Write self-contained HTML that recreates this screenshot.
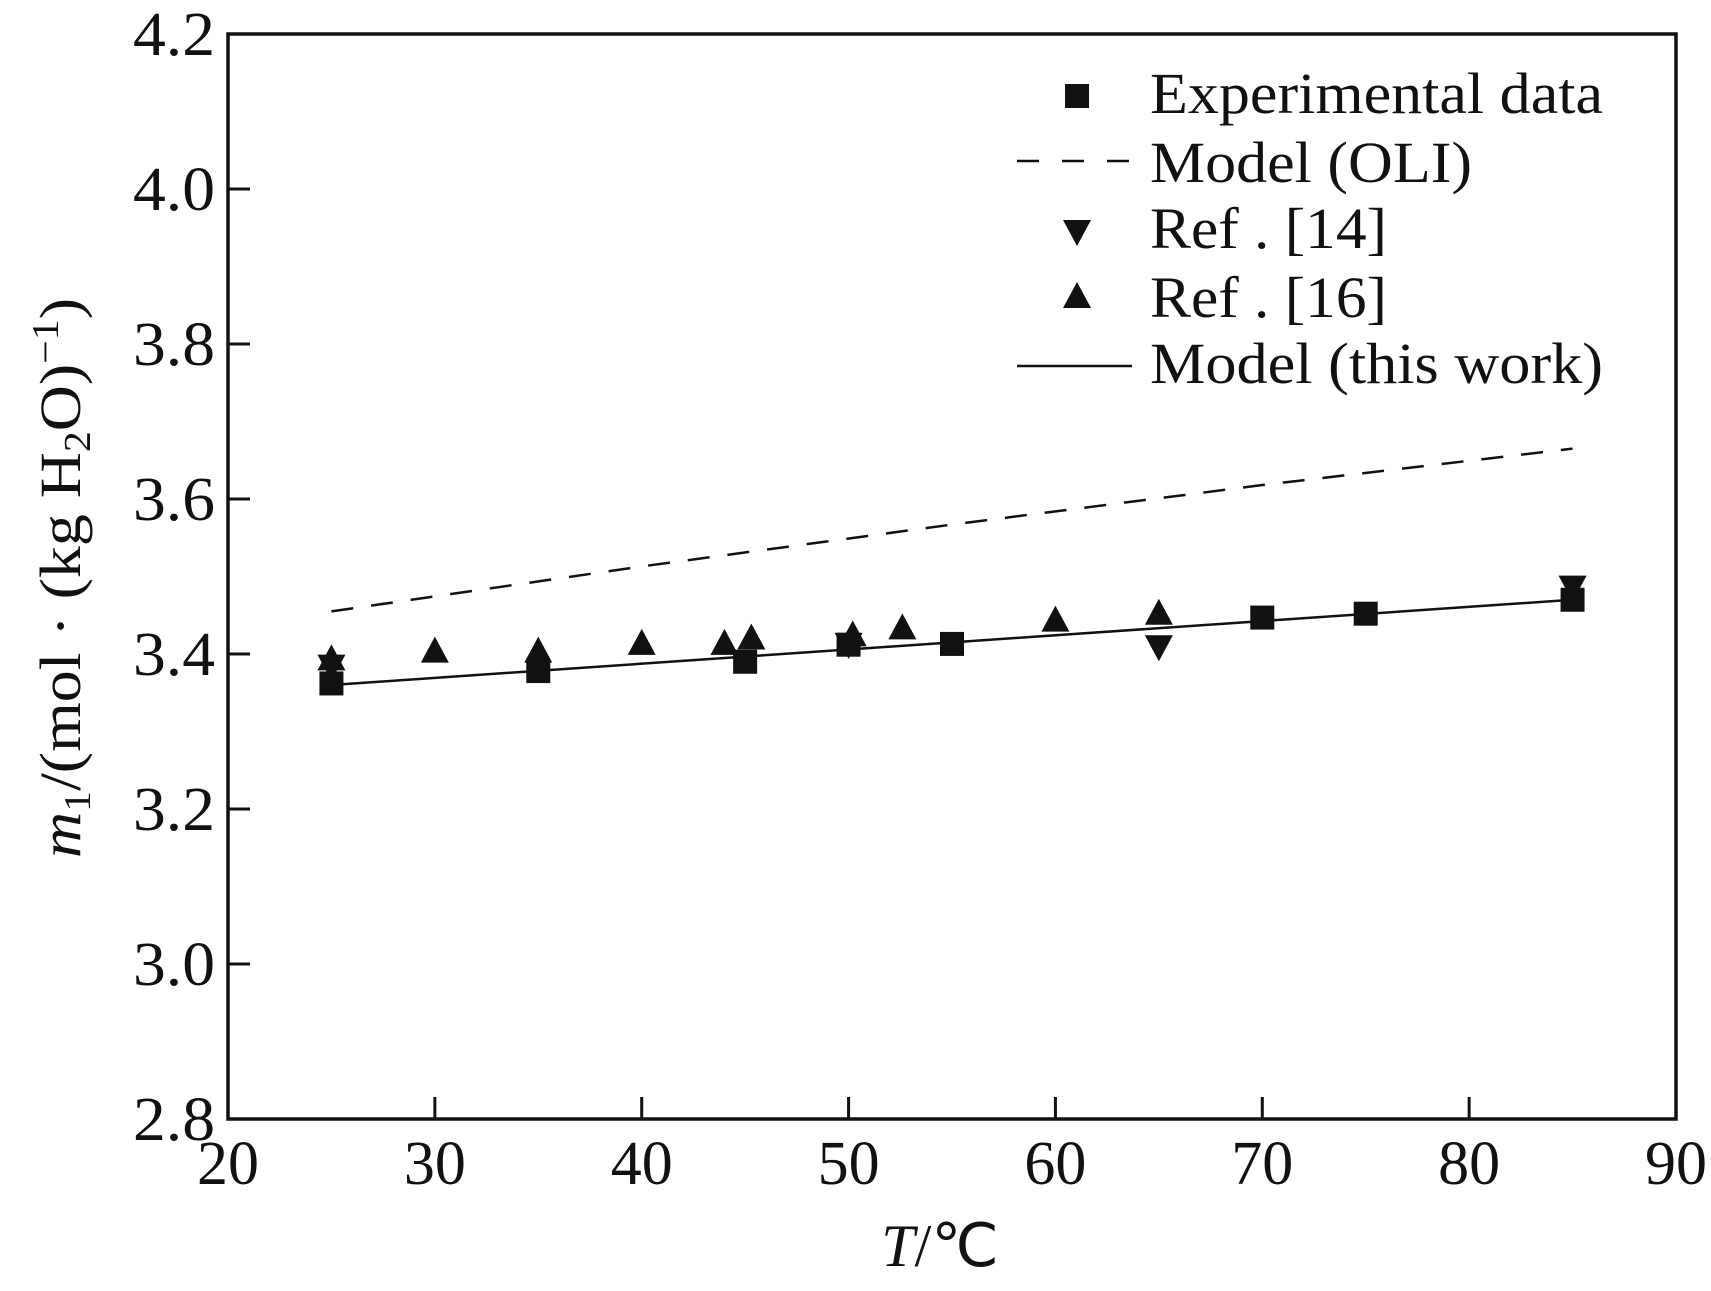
<!DOCTYPE html>
<html><head><meta charset="utf-8"><style>
html,body{margin:0;padding:0;background:#fff}
svg{display:block}
text{font-family:"Liberation Serif",serif;fill:#111}
</style></head><body>
<svg id="chart" width="1711" height="1291" viewBox="0 0 1711 1291">
<g id="marks"></g>
</svg>
<script>
const xTicks=[20,30,40,50,60,70,80,90];
const yTicks=[2.8,3.0,3.2,3.4,3.6,3.8,4.0,4.2];
const yTickLabels=["2.8","3.0","3.2","3.4","3.6","3.8","4.0","4.2"];
const expT=[25,35,45,50,55,70,75,85];
const expM=[3.362,3.378,3.39,3.412,3.413,3.447,3.452,3.47];
const ref16T=[25,30,35,40,44,45.3,50.2,52.6,60,65];
const ref16M=[3.393,3.403,3.403,3.413,3.413,3.42,3.424,3.433,3.443,3.452];
const ref14T=[25,50,65,85];
const ref14M=[3.385,3.413,3.41,3.487];
const oliT=[25,40,55,70,85];
const oliM=[3.455,3.513,3.567,3.618,3.665];
const modelT=[25,85];
const modelM=[3.36,3.47];

const L=228,R=1676,T=34,B=1119;
const sx=v=>L+(v-20)/70*(R-L);
const sy=v=>T+(4.2-v)/1.4*(B-T);
const NS="http://www.w3.org/2000/svg";
const svg=document.getElementById('chart');
function mk(tag,attrs,parent){const e=document.createElementNS(NS,tag);for(const k in attrs)e.setAttribute(k,attrs[k]);(parent||svg).appendChild(e);return e;}

let f=mk('rect',{x:L,y:T,width:R-L,height:B-T,fill:'none',stroke:'#111','stroke-width':3.5});



xTicks.forEach(v=>{
  const t=mk('line',{x1:sx(v),x2:sx(v),y1:B,y2:B-22,stroke:'#111','stroke-width':3});
  
  
  const lb=mk('text',{x:sx(v),y:1184,'font-size':62,'text-anchor':'middle',textLength:62,lengthAdjust:'spacingAndGlyphs'});
  lb.textContent=String(v);
  
  
});
yTicks.forEach((v,i)=>{
  const t=mk('line',{x1:L,x2:L+22,y1:sy(v),y2:sy(v),stroke:'#111','stroke-width':3});
  
  
  const lb=mk('text',{x:215,y:sy(v)+21,'font-size':62,'text-anchor':'end',textLength:82,lengthAdjust:'spacingAndGlyphs'});
  lb.textContent=yTickLabels[i];
  
  
});

const xt=mk('text',{x:940,y:1266,'font-size':60,'text-anchor':'middle'});
xt.innerHTML='<tspan font-style="italic">T</tspan>/℃';


const yt=mk('text',{x:0,y:0,'font-size':58,'text-anchor':'middle',transform:'translate(80,578) rotate(-90)',textLength:560,lengthAdjust:'spacingAndGlyphs'});
yt.innerHTML='<tspan font-style="italic">m</tspan><tspan font-size="38" dy="10">1</tspan><tspan dy="-10">/(mol · (kg H</tspan><tspan font-size="38" dy="10">2</tspan><tspan dy="-10">O)</tspan><tspan font-size="38" dy="-22">−1</tspan><tspan dy="22">)</tspan>';



const oli=mk('polyline',{points:oliT.map((t,i)=>sx(t)+','+sy(oliM[i])).join(' '),fill:'none',stroke:'#111','stroke-width':2.5,'stroke-dasharray':'22 18'});


const mod=mk('polyline',{points:modelT.map((t,i)=>sx(t)+','+sy(modelM[i])).join(' '),fill:'none',stroke:'#111','stroke-width':2.5});



function square(x,y){return mk('rect',{x:x-12,y:y-12,width:24,height:24,fill:'#111'});}
function up(x,y){return mk('polygon',{points:`${x},${y-15} ${x-14},${y+11} ${x+14},${y+11}`,fill:'#111'});}
function down(x,y){return mk('polygon',{points:`${x},${y+15} ${x-14},${y-11} ${x+14},${y-11}`,fill:'#111'});}

ref14T.forEach((t,i)=>{const e=down(sx(t),sy(ref14M[i]));
  
  });
ref16T.forEach((t,i)=>{const e=up(sx(t),sy(ref16M[i]));
  
  });
expT.forEach((t,i)=>{const e=square(sx(t),sy(expM[i]));
  
  });

const lg=mk('g',{});


const legTexts=['Experimental data','Model (OLI)','Ref . [14]','Ref . [16]','Model (this work)'];
const legW=[453,322,237,237,453];
const legY=[113,182,248,317,383];
legTexts.forEach((s,i)=>{
  const tx=mk('text',{x:1150,y:legY[i],'font-size':58,textLength:legW[i],lengthAdjust:'spacingAndGlyphs'},lg);
  tx.textContent=s;
  
  
});
let m=square(1077,96);


m=mk('line',{x1:1017,x2:1142,y1:161,y2:161,stroke:'#111','stroke-width':2.5,'stroke-dasharray':'22 23'});


m=down(1077,231);


m=up(1077,297);


m=mk('line',{x1:1017,x2:1132,y1:366,y2:366,stroke:'#111','stroke-width':2.5});


</script>
</body></html>
